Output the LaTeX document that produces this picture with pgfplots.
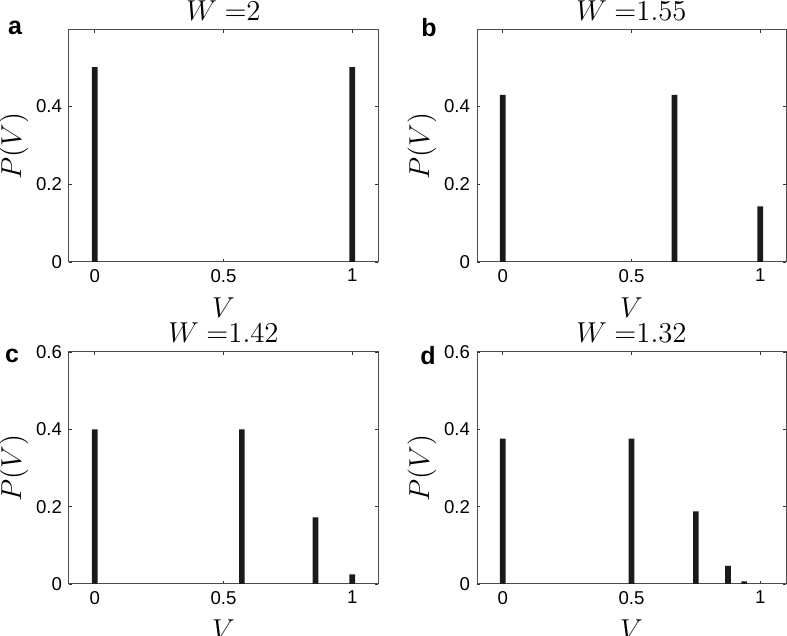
\documentclass[border=0pt]{standalone}
\usepackage{fontspec}
\setmainfont{Liberation Sans}
\usepackage{pgfplots}
\pgfplotsset{compat=1.18}

\definecolor{barcol}{RGB}{26,26,26}

\pgfplotsset{
  panel/.style={
    scale only axis,
    width=154.5pt, height=116pt,
    xmin=-0.1, xmax=1.1, ymin=0,
    xtick={0,0.5,1},
    tick align=inside,
    major tick length=1.5pt,
    tick style={black!80, line width=0.4pt},
    axis line style={black!70, line width=0.5pt},
    tick label style={font=\fontsize{9.3}{10}\selectfont},
    /pgf/number format/assume math mode=true,
    xlabel={$V$}, ylabel={$P(V)$},
    label style={font=\fontsize{14}{14}\selectfont},
    ylabel shift=-3pt,
    xlabel style={yshift=-1pt},
    title style={font=\fontsize{13.5}{14}\selectfont, yshift=-5pt},
  },
  bars/.style={ybar, bar width=0.022, bar shift=0pt, fill=barcol, draw=none},
}

\begin{document}
\begin{tikzpicture}
\path[use as bounding box] (0,0) rectangle (393.5pt,318pt);

% a
\begin{axis}[panel, at={(34.5pt,187pt)}, anchor=south west,
  ymax=0.595, ytick={0,0.2,0.4}, title={$W\ {=}2$}]
\addplot[bars] coordinates {(0,0.5) (1,0.5)};
\end{axis}

% b
\begin{axis}[panel, at={(238.5pt,187pt)}, anchor=south west,
  ymax=0.595, ytick={0,0.2,0.4}, title={$W\ {=}1.55$}]
\addplot[bars] coordinates {(0,0.4286) (0.6667,0.4286) (1,0.1429)};
\end{axis}

% c
\begin{axis}[panel, at={(34.5pt,26pt)}, anchor=south west,
  ymax=0.6, ytick={0,0.2,0.4,0.6}, title={$W\ {=}1.42$}]
\addplot[bars] coordinates {(0,0.4) (0.5714,0.4) (0.8571,0.172) (1,0.025)};
\end{axis}

% d
\begin{axis}[panel, at={(238.5pt,26pt)}, anchor=south west,
  ymax=0.6, ytick={0,0.2,0.4,0.6}, title={$W\ {=}1.32$}]
\addplot[bars] coordinates {(0,0.376) (0.5,0.376) (0.75,0.188) (0.875,0.047) (0.9375,0.007)};
\end{axis}

\node[font=\fontsize{12.5}{13}\selectfont\bfseries] at (7.5pt,304pt) {a};
\node[font=\fontsize{12.5}{13}\selectfont\bfseries] at (214.5pt,304pt) {b};
\node[font=\fontsize{12.5}{13}\selectfont\bfseries] at (6pt,140pt) {c};
\node[font=\fontsize{12.5}{13}\selectfont\bfseries] at (214pt,140pt) {d};
\end{tikzpicture}
\end{document}
